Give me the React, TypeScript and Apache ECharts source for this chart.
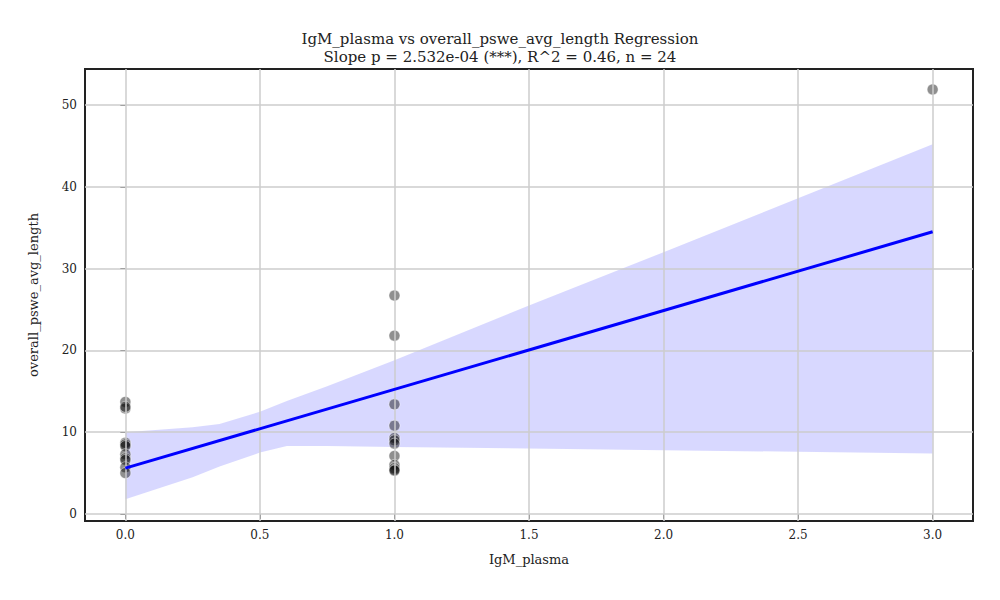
import React, { useRef, useEffect } from 'react'
import * as echarts from 'echarts'

const x0Vals = [13.7, 12.9, 13.1, 8.7, 8.5, 8.3, 7.3, 6.8, 6.6, 5.7, 5.0]
const x1Vals = [26.7, 21.8, 13.4, 10.8, 9.3, 9.0, 8.6, 7.1, 6.0, 5.6, 5.4, 5.3]
const x3Vals = [51.9]
const bandX = [0, 0.25, 0.35, 0.5, 0.6, 0.75, 1.0, 1.5, 2.0, 2.5, 3.0]
const bandUpper = [10.0, 10.6, 11.0, 12.5, 13.8, 15.6, 18.8, 25.5, 32.0, 38.6, 45.2]
const bandLower = [1.8, 4.5, 5.8, 7.5, 8.3, 8.3, 8.2, 8.0, 7.8, 7.6, 7.4]
const fitX = [0, 3]
const fitY = [5.6, 34.5]
const xTicks = [0, 0.5, 1, 1.5, 2, 2.5, 3]
const yTicks = [0, 10, 20, 30, 40, 50]

const font = 'DejaVu Serif'
const gridColor = '#cccccc'

export default function App() {
  const ref = useRef<HTMLDivElement>(null)
  useEffect(() => {
    if (!ref.current) return
    const chart = echarts.init(ref.current, undefined, { renderer: 'svg' })
    const points = [
      ...x0Vals.map(v => [0, v]),
      ...x1Vals.map(v => [1, v]),
      ...x3Vals.map(v => [3, v]),
    ]
    const vLines = xTicks.map(v => ({ xAxis: v }))
    const hLines = yTicks.map(v => ({ yAxis: v }))
    chart.setOption({
      animation: false,
      backgroundColor: '#ffffff',
      title: {
        text: 'IgM_plasma vs overall_pswe_avg_length Regression\nSlope p = 2.532e-04 (***), R^2 = 0.46, n = 24',
        left: 'center',
        top: 17,
        textStyle: { fontFamily: font, fontSize: 15, fontWeight: 'normal', color: '#222', lineHeight: 18 },
      },
      grid: { left: 77, right: 19, top: 61, bottom: 71, show: true, borderColor: '#222', borderWidth: 2 },
      xAxis: {
        type: 'value', min: -0.15, max: 3.15,
        name: 'IgM_plasma', nameLocation: 'middle', nameGap: 32,
        nameTextStyle: { fontFamily: font, fontSize: 13, color: '#222' },
        axisLine: { show: false },
        axisTick: { show: true, customValues: xTicks, length: 5, lineStyle: { color: '#222' } },
        axisLabel: { customValues: xTicks, fontFamily: font, fontSize: 12, color: '#222', formatter: (v: number) => v.toFixed(1) },
        splitLine: { show: false },
      },
      yAxis: {
        type: 'value', min: -0.86, max: 54.4,
        name: 'overall_pswe_avg_length', nameLocation: 'middle', nameGap: 45,
        nameTextStyle: { fontFamily: font, fontSize: 13, color: '#222' },
        axisLine: { show: false },
        axisTick: { show: true, customValues: yTicks, length: 5, lineStyle: { color: '#222' } },
        axisLabel: { customValues: yTicks, fontFamily: font, fontSize: 12, color: '#222' },
        splitLine: { show: false },
      },
      series: [
        {
          type: 'custom', silent: true, z: 1,
          data: [0],
          renderItem: (_params: any, api: any) => {
            const pts = [
              ...bandX.map((x, i) => api.coord([x, bandUpper[i]])),
              ...bandX.map((x, i) => api.coord([x, bandLower[i]])).reverse(),
            ]
            return { type: 'polygon', shape: { points: pts }, style: { fill: 'rgba(110,110,255,0.27)' } }
          },
          markLine: {
            silent: true, symbol: 'none', label: { show: false },
            lineStyle: { color: gridColor, type: 'solid', width: 1.5 },
            data: [...vLines, ...hLines],
          },
        },
        {
          type: 'scatter', data: points, symbolSize: 11, z: 3,
          itemStyle: { color: 'rgba(0,0,0,0.55)', borderColor: 'rgba(255,255,255,0.6)', borderWidth: 1 },
        },
        {
          type: 'line', data: fitX.map((x, i) => [x, fitY[i]]), symbol: 'none',
          lineStyle: { color: '#0000ff', width: 3 }, z: 5,
        },
      ],
    })
    return () => chart.dispose()
  }, [])
  return <div ref={ref} style={{ width: 984, height: 584 }} />
}
